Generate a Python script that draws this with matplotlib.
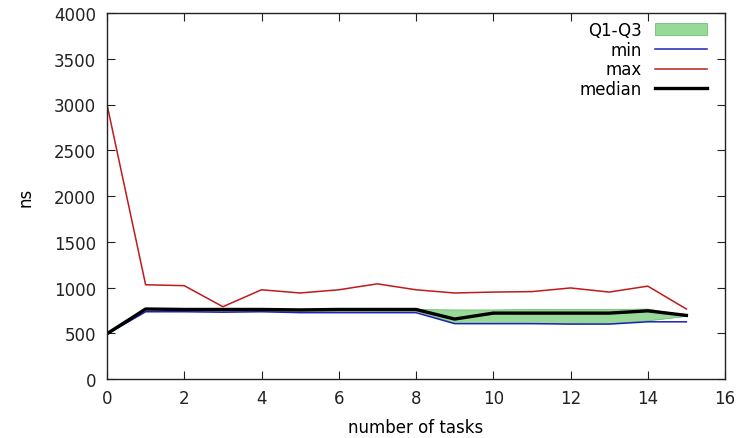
import matplotlib
matplotlib.use("Agg")
import matplotlib.pyplot as plt

tasks = list(range(16))
t_max = [3000, 1030, 1020, 790, 975, 940, 975, 1040, 975, 940, 950, 955, 995, 950, 1015, 765]
t_median = [495, 765, 760, 760, 760, 755, 760, 760, 760, 655, 720, 720, 720, 720, 745, 695]
t_min = [490, 735, 735, 730, 735, 725, 725, 725, 725, 605, 605, 605, 600, 600, 625, 625]
t_q1 = [490, 745, 745, 745, 745, 740, 740, 740, 745, 615, 610, 610, 610, 610, 640, 690]
t_q3 = [500, 770, 770, 765, 765, 765, 765, 765, 765, 760, 760, 765, 765, 765, 770, 700]

plt.rcParams["font.family"] = "DejaVu Sans"
plt.rcParams["font.size"] = 12

fig = plt.figure(figsize=(7.49, 4.39), dpi=100)
ax = fig.add_axes([107 / 749, 1 - 380 / 439, (725 - 107) / 749, (380 - 14) / 439])

ax.fill_between(tasks, t_q1, t_q3, facecolor="#98d898", edgecolor="#98d898",
                linewidth=0.5, label="Q1-Q3")
ax.plot(tasks, t_min, color="#2020b8", lw=1.1, label="min")
ax.plot(tasks, t_max, color="#c01a1a", lw=1.1, label="max")
ax.plot(tasks, t_median, color="black", lw=2.4, label="median")

ax.set_xlim(0, 16)
ax.set_ylim(0, 4000)
ax.set_xticks(range(0, 17, 2))
ax.set_yticks(range(0, 4001, 500))
ax.tick_params(direction="in", length=6, top=True, right=True, width=0.8, colors="#222222")
ax.tick_params(axis="y", pad=8)
ax.tick_params(axis="x", pad=7)
for s in ax.spines.values():
    s.set_color("#222222")
    s.set_linewidth(1.0)

ax.set_xlabel("number of tasks", labelpad=8)
ax.set_ylabel("ns", labelpad=14)

handles, labels = ax.get_legend_handles_labels()
handles[0].set_edgecolor("#5cb85c")
leg = ax.legend(loc="upper right", frameon=False, markerfirst=False,
                handlelength=3.1, handletextpad=0.8, borderaxespad=0.3,
                labelspacing=0.1, bbox_to_anchor=(0.99, 1.01))
for t in leg.get_texts():
    t.set_ha("right")

fig.savefig("out.png", dpi=100)
